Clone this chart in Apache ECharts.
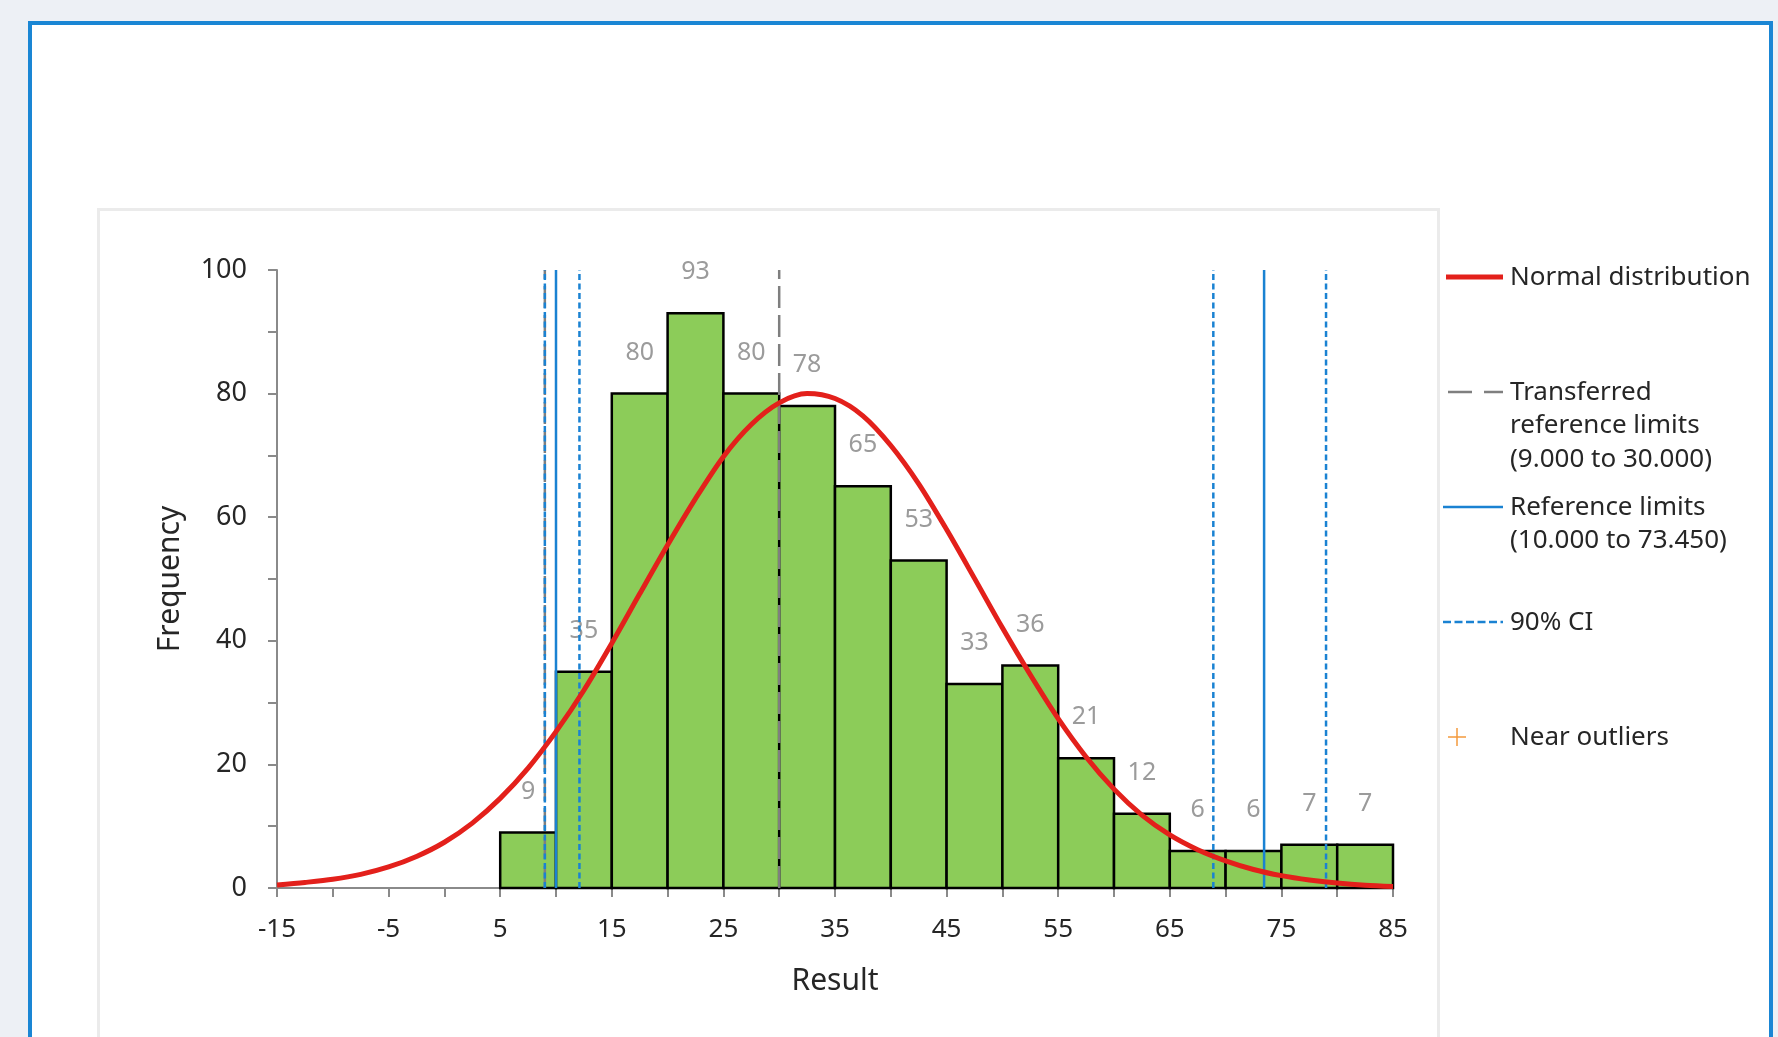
<!DOCTYPE html>
<html>
<head>
<meta charset="utf-8">
<script src="https://cdn.jsdelivr.net/npm/echarts@6/dist/echarts.min.js"></script>
<style>
  html, body { margin: 0; padding: 0; width: 1778px; height: 1037px; overflow: hidden; background: #edf0f5; }
  #frame { position: absolute; left: 28px; top: 21px; width: 1737px; height: 1100px; border: 4px solid #1a86d4; background: #fff; }
  #inner { position: absolute; left: 97px; top: 208px; width: 1337px; height: 830px; border: 3px solid #ebebeb; }
  #chart { position: absolute; left: 0; top: 0; width: 1778px; height: 1037px; }
</style>
</head>
<body>
<div id="frame"></div>
<div id="inner"></div>
<div id="chart"></div>
<script>
// ---- data ----
const binStarts = [5, 10, 15, 20, 25, 30, 35, 40, 45, 50, 55, 60, 65, 70, 75, 80];
const binEnds   = [10, 15, 20, 25, 30, 35, 40, 45, 50, 55, 60, 65, 70, 75, 80, 85];
const counts    = [9, 35, 80, 93, 80, 78, 65, 53, 33, 36, 21, 12, 6, 6, 7, 7];

const curveX = [-15, -12.5, -10, -7.5, -5, -2.5, 0, 2.5, 5, 7.5, 10, 12.5, 15, 17.5, 20, 22.5, 25, 27.5, 30, 32.5,
                35, 37.5, 40, 42.5, 45, 47.5, 50, 52.5, 55, 57.5, 60, 62.5, 65, 67.5, 70, 72.5, 75, 77.5, 80, 82.5, 85];
const curveY = [0.5, 0.9, 1.4, 2.2, 3.4, 5.1, 7.4, 10.5, 14.5, 19.4, 25.3, 32, 39.6, 47.6, 55.5, 63, 69.8, 75, 78.5, 80,
                79.2, 76.4, 71.6, 65.4, 58, 50.1, 42.1, 34.5, 27.4, 21.2, 16, 11.8, 8.6, 6.2, 4.4, 3.0, 2.0, 1.3, 0.8, 0.45, 0.25];

const transferredLimits = [9.0, 30.0];
const referenceLimits   = [10.0, 73.45];
const ciLimits          = [9.0, 12.1, 68.9, 79.0];
const lineTop = 100;

const xTickLabels = [-15, -5, 5, 15, 25, 35, 45, 55, 65, 75, 85];
const yTickLabels = [0, 20, 40, 60, 80, 100];

const legendNames = ['Normal distribution', 'Transferred\nreference limits\n(9.000 to 30.000)', 'Reference limits\n(10.000 to 73.450)', '90% CI', 'Near outliers'];

// ---- styles ----
const FONT = 'Noto Sans';
const GREEN = '#8ccc59';
const RED = '#e3201b';
const BLUE = '#1a82d2';
const GRAY = '#7f7f7f';
const AXIS = '#8a8a8a';

const chart = echarts.init(document.getElementById('chart'), null, { renderer: 'canvas' });

const barData = binStarts.map((s, i) => [s, binEnds[i], counts[i]]);

function vline(x, name, color, type, z) {
  return {
    type: 'line', name: name, data: [[x, 0], [x, lineTop]],
    symbol: 'none', silent: true, z: z, animation: false,
    lineStyle: { color: color, width: 2.5, type: type }
  };
}

const series = [
  {
    type: 'custom', name: 'Histogram', z: 1, animation: false,
    data: barData,
    renderItem: function (params, api) {
      const p0 = api.coord([api.value(0), api.value(2)]);
      const p1 = api.coord([api.value(1), 0]);
      const cx = (p0[0] + p1[0]) / 2;
      return {
        type: 'group',
        children: [
          { type: 'rect', shape: { x: p0[0], y: p0[1], width: p1[0] - p0[0], height: p1[1] - p0[1] },
            style: { fill: GREEN, stroke: '#000', lineWidth: 2.5 } },
          { type: 'text', x: cx, y: p0[1] - 41,
            style: { text: String(api.value(2)), fill: '#9b9b9b', font: '25px "' + FONT + '"', align: 'center', verticalAlign: 'middle' } }
        ]
      };
    }
  }
];
transferredLimits.forEach(x => series.push(vline(x, legendNames[1], GRAY, [22, 7], 2)));
referenceLimits.forEach(x => series.push(vline(x, legendNames[2], BLUE, 'solid', 3)));
ciLimits.forEach(x => series.push(vline(x, legendNames[3], BLUE, [6, 3.5], 3)));
series.push({
  type: 'line', name: legendNames[0], data: curveX.map((x, i) => [x, curveY[i]]),
  smooth: 0.3, symbol: 'none', z: 5, animation: false,
  lineStyle: { color: RED, width: 5 }
});

// legend drawn as graphics (layout only)
const TX = 1510, LF = '26px "' + FONT + '"';
const graphics = [
  { type: 'line', shape: { x1: 1446, y1: 277, x2: 1503, y2: 277 }, style: { stroke: RED, lineWidth: 5 } },
  { type: 'text', x: TX, y: 278, style: { text: legendNames[0], font: LF, fill: '#262626', verticalAlign: 'middle' } },
  { type: 'line', shape: { x1: 1448, y1: 392, x2: 1503, y2: 392 }, style: { stroke: GRAY, lineWidth: 2.5, lineDash: [24, 12] } },
  { type: 'text', x: TX, y: 392 - 16, style: { text: legendNames[1], font: LF, fill: '#262626', verticalAlign: 'top', lineHeight: 33.3 } },
  { type: 'line', shape: { x1: 1443, y1: 507, x2: 1503, y2: 507 }, style: { stroke: BLUE, lineWidth: 2.5 } },
  { type: 'text', x: TX, y: 507 - 16, style: { text: legendNames[2], font: LF, fill: '#262626', verticalAlign: 'top', lineHeight: 33.3 } },
  { type: 'line', shape: { x1: 1443, y1: 622, x2: 1503, y2: 622 }, style: { stroke: BLUE, lineWidth: 2.5, lineDash: [8, 3.5] } },
  { type: 'text', x: TX, y: 623, style: { text: legendNames[3], font: LF, fill: '#262626', verticalAlign: 'middle' } },
  { type: 'line', shape: { x1: 1448, y1: 737, x2: 1466, y2: 737 }, style: { stroke: '#f39a3c', lineWidth: 1.5 } },
  { type: 'line', shape: { x1: 1457, y1: 728, x2: 1457, y2: 746 }, style: { stroke: '#f39a3c', lineWidth: 1.5 } },
  { type: 'text', x: TX, y: 738, style: { text: legendNames[4], font: LF, fill: '#262626', verticalAlign: 'middle' } }
];

chart.setOption({
  animation: false,
  backgroundColor: 'transparent',
  grid: { left: 277, right: 385, top: 270, bottom: 149, containLabel: false },
  xAxis: {
    type: 'value', min: -15, max: 85, interval: 5,
    name: 'Result', nameLocation: 'middle', nameGap: 78,
    nameTextStyle: { fontFamily: FONT, fontSize: 30, color: '#262626' },
    axisLine: { show: true, onZero: false, lineStyle: { color: AXIS, width: 2 } },
    axisTick: { show: true, inside: false, length: 9, lineStyle: { color: AXIS, width: 2 } },
    axisLabel: {
      margin: 29, fontFamily: FONT, fontSize: 26, color: '#262626',
      formatter: v => (xTickLabels.indexOf(v) >= 0 ? String(v) : '')
    },
    splitLine: { show: false }
  },
  yAxis: {
    type: 'value', min: 0, max: 100, interval: 10,
    name: 'Frequency', nameLocation: 'middle', nameGap: 92, nameRotate: 90,
    nameTextStyle: { fontFamily: FONT, fontSize: 30, color: '#262626' },
    axisLine: { show: true, onZero: false, lineStyle: { color: AXIS, width: 2 } },
    axisTick: { show: true, inside: false, length: 9, lineStyle: { color: AXIS, width: 2 } },
    axisLabel: {
      margin: 30, fontFamily: FONT, fontSize: 27, color: '#262626',
      formatter: v => (yTickLabels.indexOf(v) >= 0 ? String(v) : '')
    },
    splitLine: { show: false }
  },
  graphic: graphics,
  series: series
});
</script>
</body>
</html>
